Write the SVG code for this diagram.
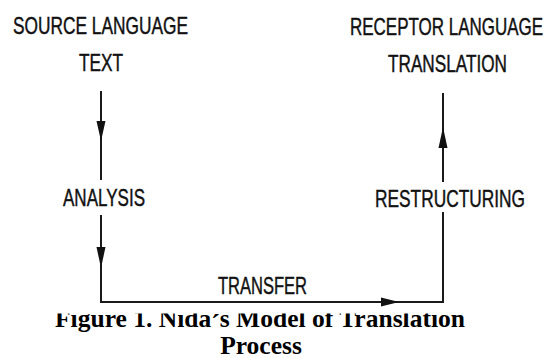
<svg xmlns="http://www.w3.org/2000/svg" width="547" height="358" viewBox="0 0 547 358">
  <style>
    .lbl { font-family: "Liberation Sans", Arial, sans-serif; font-size: 24px; fill: #111; stroke: #111; stroke-width: 0.45; text-anchor: middle; }
    .cap { font-family: "Liberation Serif", "Times New Roman", serif; font-size: 25.5px; font-weight: bold; fill: #000; text-anchor: middle; }
    .ln { stroke: #1a1a1a; stroke-width: 2; fill: none; }
    .ah { fill: #111; }
  </style>
  <defs>
    <clipPath id="capClip">
      <rect x="0" y="313.5" width="547" height="45"/>
    </clipPath>
  </defs>
  <rect width="547" height="358" fill="#fff"/>

  <g id="connectors">
    <!-- source text down to analysis -->
    <line class="ln" x1="101" y1="91" x2="101" y2="180"/>
    <polygon class="ah" points="96.5,121 105.5,121 101,141"/>
    <!-- analysis down and across to restructuring -->
    <polyline class="ln" points="101,215 101,302 443,302 443,212"/>
    <polygon class="ah" points="96.5,247 105.5,247 101,268"/>
    <polygon class="ah" points="381,297.5 381,306.5 399,302"/>
    <!-- restructuring up to translation -->
    <line class="ln" x1="443" y1="182" x2="443" y2="93"/>
    <polygon class="ah" points="438.5,148 447.5,148 443,127"/>
  </g>

  <g id="source">
    <text class="lbl" x="100.5" y="34" textLength="175" lengthAdjust="spacingAndGlyphs">SOURCE LANGUAGE</text>
    <text class="lbl" x="101" y="71" textLength="44" lengthAdjust="spacingAndGlyphs">TEXT</text>
  </g>

  <g id="receptor">
    <text class="lbl" x="446.5" y="35" textLength="193" lengthAdjust="spacingAndGlyphs">RECEPTOR LANGUAGE</text>
    <text class="lbl" x="447.5" y="72" textLength="119" lengthAdjust="spacingAndGlyphs">TRANSLATION</text>
  </g>

  <g id="analysis">
    <text class="lbl" x="104" y="206" textLength="82" lengthAdjust="spacingAndGlyphs">ANALYSIS</text>
  </g>

  <g id="restructuring">
    <text class="lbl" x="450" y="207" textLength="150" lengthAdjust="spacingAndGlyphs">RESTRUCTURING</text>
  </g>

  <g id="transfer">
    <text class="lbl" x="262.5" y="294" textLength="89" lengthAdjust="spacingAndGlyphs">TRANSFER</text>
  </g>

  <g id="caption" clip-path="url(#capClip)">
    <!-- the acute sits a little low so it clears the top crop -->
    <text class="cap" x="260" y="327" textLength="410" lengthAdjust="spacingAndGlyphs">Figure 1. Nida<tspan dy="5">´</tspan><tspan dy="-5">s Model of Translation</tspan></text>
    <text class="cap" x="261" y="354">Process</text>
  </g>
</svg>
